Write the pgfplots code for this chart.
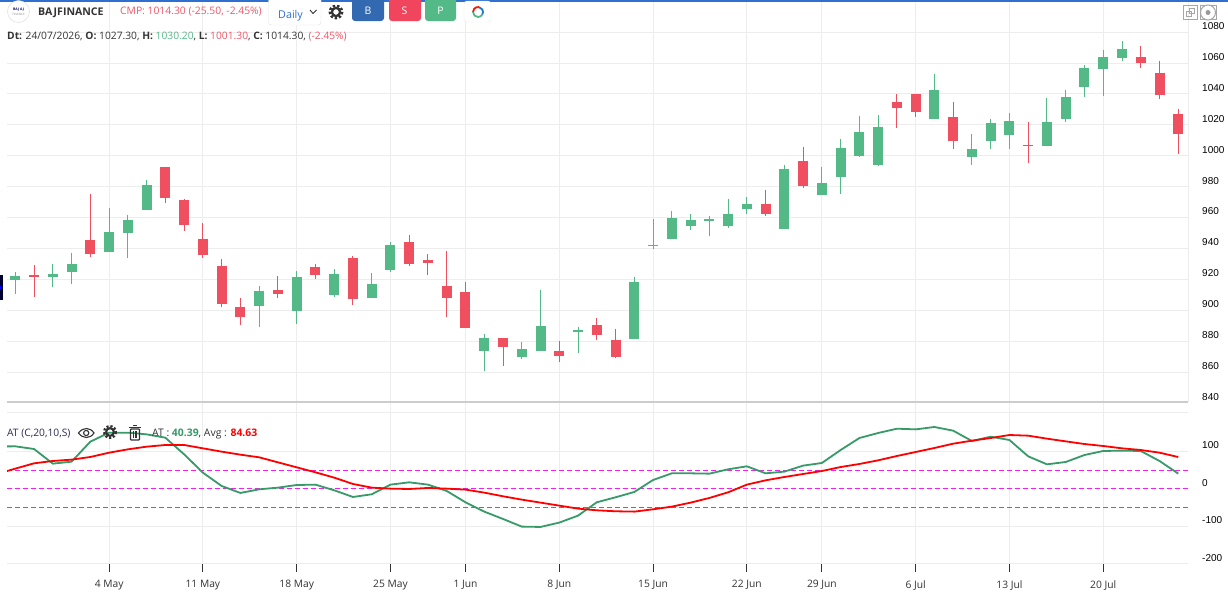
\documentclass[border=0pt]{standalone}
\usepackage{fontspec}
\setmainfont{Open Sans}
\newfontfamily\ticksf{Liberation Sans}
\usepackage{pgfplots}
\usepackage{pgfplotstable}
\pgfplotsset{compat=1.18}
\definecolor{upc}{HTML}{53B987}
\definecolor{dnc}{HTML}{EF4F5F}
\definecolor{gridc}{HTML}{EDEDED}
\definecolor{linegr}{HTML}{389A68}
\definecolor{txt}{HTML}{333333}
\definecolor{pinkt}{HTML}{EF5568}
\definecolor{bluet}{HTML}{2F6FD0}
\definecolor{btnb}{HTML}{3269B1}
\definecolor{btns}{HTML}{F0455C}
\definecolor{dashc}{HTML}{F020F0}
\pgfplotstableread{
i t b h l
0 922.3 919.7 924.9 910.7
2 923.6 921.7 930.1 915.2
3 930.1 924.9 937.2 917.1
5 950.8 937.9 966.3 937.9
6 958.6 950.2 961.8 934.0
7 981.2 964.6 984.5 964.6
13 912.6 902.9 915.8 889.3
15 921.7 899.7 925.6 891.3
17 923.6 910.0 926.8 908.7
19 917.1 908.1 924.3 908.1
20 942.4 926.2 944.3 924.9
25 882.2 873.8 884.8 860.9
27 875.1 869.9 879.6 868.6
28 890.0 873.8 913.3 873.8
30 887.4 886.1 889.3 872.5
33 918.5 881.6 921.7 881.6
34 942.4 941.7 959.2 939.8
35 959.9 945.8 964.4 945.8
36 958.6 954.7 962.5 952.1
37 959.2 957.9 961.2 948.2
38 962.5 954.3 972.2 953.4
39 968.9 965.7 973.5 962.5
41 991.6 952.3 994.2 952.3
43 982.5 974.8 992.9 974.8
44 1005.2 986.4 1011.0 975.0
45 1015.5 1000.0 1025.9 999.3
46 1018.8 994.2 1026.5 993.5
49 1042.7 1024.0 1053.1 1024.0
51 1004.5 999.3 1014.2 994.2
52 1021.4 1009.7 1023.9 1004.5
53 1022.7 1013.6 1027.8 1004.5
55 1022.0 1006.5 1037.5 1006.5
56 1038.2 1023.9 1042.7 1022.0
57 1057.0 1044.7 1058.9 1038.2
58 1064.1 1056.3 1068.6 1038.8
59 1069.3 1063.4 1074.4 1061.5
}\upT
\pgfplotstableread{
i t b h l
1 923.0 921.7 929.4 908.7
4 945.6 936.6 975.4 934.6
8 992.9 972.8 992.9 969.6
9 971.5 955.3 972.2 951.4
10 946.3 935.9 956.6 934.0
11 928.8 904.2 933.3 902.3
12 902.3 895.8 908.1 890.6
14 913.3 910.7 922.3 908.1
16 928.1 923.0 930.1 920.4
18 934.0 907.4 935.2 903.6
21 944.4 930.1 948.9 928.8
22 932.7 930.8 936.6 923.0
23 915.9 908.1 938.5 895.8
24 912.0 888.7 918.5 888.3
26 882.2 876.4 882.2 864.1
29 873.8 870.6 880.3 866.7
31 890.6 884.2 895.2 880.9
32 880.9 869.9 888.0 869.3
40 968.9 962.5 978.0 961.2
42 996.8 980.6 1005.8 979.3
47 1034.9 1031.1 1040.1 1018.1
48 1040.1 1028.5 1040.1 1025.2
50 1025.2 1009.7 1035.0 1004.5
54 1007.2 1006.5 1022.0 995.5
60 1064.1 1060.2 1071.2 1057.0
61 1053.7 1039.5 1061.5 1036.9
62 1027.3 1014.3 1030.2 1001.3
}\dnT
\pgfplotstableread{
i at avg
-1 113.0 39.0
0 113.2 53.7
1 106.1 67.9
2 67.0 74.1
3 72.3 77.7
4 125.7 84.8
5 149.7 96.3
6 149.7 105.2
7 145.2 112.3
8 136.3 116.8
9 91.9 116.8
10 43.0 107.9
11 7.4 99.0
12 -11.2 91.0
13 -1.5 83.9
14 3.0 70.5
15 10.0 57.2
16 11.0 43.9
17 -4.1 29.7
18 -21.9 12.8
19 -14.8 3.0
20 11.0 0.3
21 17.2 -0.6
22 11.0 2.1
23 -5.9 0.3
24 -36.1 -2.3
25 -61.0 -10.3
26 -80.6 -20.1
27 -101.0 -29.0
28 -101.9 -37.0
29 -90.3 -45.0
30 -71.7 -53.0
31 -36.1 -57.5
32 -22.8 -60.1
33 -8.6 -61.0
34 23.4 -54.8
35 41.2 -47.7
36 41.2 -37.0
37 40.3 -24.6
38 51.9 -9.5
39 59.9 11.0
40 41.2 22.5
41 45.7 31.4
42 61.7 39.4
43 68.8 47.4
44 103.4 58.0
45 135.4 66.1
46 148.8 75.9
47 160.3 87.4
48 158.5 98.1
49 164.8 108.8
50 155.0 120.3
51 127.4 128.3
52 139.0 135.4
53 130.1 143.4
54 86.5 141.7
55 65.2 133.7
56 71.4 126.5
57 90.1 119.4
58 100.8 114.1
59 101.7 107.9
60 100.8 103.4
61 74.1 96.3
62 40.39 84.63
}\atT
\pgfplotsset{common/.style={
  scale only axis, width=1181bp, xmin=-0.4425, xmax=62.52,
  xtick={5,10,15,20,24,29,34,39,43,48,53,58},
  axis line style={draw=none},
  grid=major, grid style={gridc, line width=1bp},
  yticklabel pos=right,
  ytick style={draw=none},
  tick label style={font=\fontsize{10.3}{12}\selectfont},
  y tick label style={font=\ticksf\fontsize{10.04}{12}\selectfont, text=black, anchor=west, inner sep=0pt, yshift=6bp},
  /pgf/number format/assume math mode=true,
  /pgf/number format/set thousands separator={},
}}
\begin{document}
\begin{tikzpicture}
\path[use as bounding box, fill=white] (0,0) rectangle (1228bp,-592bp);
\begin{axis}[common, anchor=south west, at={(7bp,-402.9bp)}, height=401.7bp,
  ymin=840, ymax=1100, ytick={840,860,...,1080},
  xticklabels={}, major tick length=0pt, xtick style={draw=none},
  y tick label style={xshift=14bp}]
\addplot[draw=none, mark=none, forget plot, error bars/.cd, y dir=minus, y explicit, error mark=none, error bar style={upc, line width=1bp}]
  table[x=i, y=h, y error minus expr=\thisrow{h}-\thisrow{l}] {\upT};
\addplot[draw=none, mark=none, forget plot, error bars/.cd, y dir=minus, y explicit, error mark=none, error bar style={dnc, line width=1bp}]
  table[x=i, y=h, y error minus expr=\thisrow{h}-\thisrow{l}] {\dnT};
\addplot[draw=none, mark=none, forget plot, error bars/.cd, y dir=minus, y explicit, error mark=none, error bar style={upc, line width=10bp}]
  table[x=i, y=t, y error minus expr=\thisrow{t}-\thisrow{b}] {\upT};
\addplot[draw=none, mark=none, forget plot, error bars/.cd, y dir=minus, y explicit, error mark=none, error bar style={dnc, line width=10bp}]
  table[x=i, y=t, y error minus expr=\thisrow{t}-\thisrow{b}] {\dnT};
\end{axis}
\begin{axis}[common, anchor=south west, at={(7bp,-563.7bp)}, height=161.7bp,
  ymin=-200, ymax=231.5, ytick={-200,-100,0,100,203.5},
  yticklabels={-200,-100,0,100,{}},
  xticklabels={4 May,11 May,18 May,25 May,1 Jun,8 Jun,15 Jun,22 Jun,29 Jun,6 Jul,13 Jul,20 Jul},
  tick align=outside, xtick pos=bottom, major tick length=8bp,
  xtick style={draw=txt, line width=0.8bp},
  x tick label style={text=txt, inner sep=0pt, yshift=-8.5bp},
  y tick label style={xshift=6bp}]
\addplot[dashc, line width=1bp, dash pattern=on 5bp off 3bp, forget plot] coordinates {(-0.4425,50) (62.52,50)};
\addplot[dashc, line width=1bp, dash pattern=on 5bp off 3bp, forget plot] coordinates {(-0.4425,0) (62.52,0)};
\addplot[dashc, line width=1bp, dash pattern=on 5bp off 3bp, forget plot] coordinates {(-0.4425,-50) (62.52,-50)};
\addplot[linegr, line width=1.8bp, line join=round] table[x=i, y=at] {\atT};
\addplot[red, line width=1.8bp, line join=round] table[x=i, y=avg] {\atT};
\end{axis}
\begin{scope}[x=1bp, y=-1bp]
\fill[white] (1188.6,0) rectangle (1228,10);
\draw[gridc, line width=1bp] (1188,0) -- (1188,402);
\draw[black!20, line width=2bp] (7,401.7) -- (1188,401.7);
\fill[bluet] (0,0) rectangle (1228,1.6);
\fill[black!80!blue] (0,275) rectangle (3,300);
\fill[blue] (0,285.5) rectangle (1.5,288.5);
\draw[black!15, fill=white] (18.5,11.5) circle (11);
\node[font=\bfseries\fontsize{3.4}{4}\selectfont, text=blue!40!black] at (18.5,9.6) {BAJ AJ};
\node[font=\fontsize{3}{4}\selectfont, text=black!45] at (18.5,14) {FINANCE};
\node[anchor=base west, inner sep=0, font=\bfseries\fontsize{10.6}{12}\selectfont, text=txt] at (38,15) {BAJFINANCE};
\node[anchor=base west, inner sep=0, font=\fontsize{10.36}{12}\selectfont, text=pinkt] at (120,14) {CMP: 1014.30 (-25.50, -2.45\%)};
\draw[black!12, fill=white, rounded corners=3bp] (268.5,-3) rectangle (321,25);
\node[anchor=base west, inner sep=0, font=\fontsize{10.8}{12}\selectfont, text=bluet] at (278,18) {Daily};
\draw[txt, line width=0.9bp] (310,10) -- (313,13.5) -- (316.5,10);
\draw[txt, line width=2.4bp, dash pattern=on 2.4bp off 1.9bp] (336,12) circle (6.2);
\draw[txt, line width=2.3bp] (336,12) circle (4.1);
\fill[btnb, rounded corners=3bp] (352,-3) rectangle (384,21);
\fill[btns, rounded corners=3bp] (389,-3) rectangle (421,21);
\fill[upc, rounded corners=3bp] (425,-3) rectangle (456,21);
\node[text=white, font=\fontsize{10.5}{12}\selectfont] at (368,11) {B};
\node[text=white, font=\fontsize{10.5}{12}\selectfont] at (404.5,11) {S};
\node[text=white, font=\fontsize{10.5}{12}\selectfont] at (440.5,11) {P};
\draw[black!8, fill=white, rounded corners=3bp] (464,1) rectangle (491,22);
\draw[upc, line width=1.8bp] (478,12) ++(180:5) arc[start angle=180, delta angle=-150, radius=5];
\draw[cyan!60!blue, line width=1.8bp] (478,12) ++(30:5) arc[start angle=30, delta angle=-110, radius=5];
\draw[red!80!orange, line width=1.8bp] (478,12) ++(-80:5) arc[start angle=-80, delta angle=-100, radius=5];
\node[anchor=base west, inner sep=0, font=\fontsize{10.3}{12}\selectfont, text=txt] at (7,39) {\textbf{Dt:} 24/07/2026, \textbf{O:} 1027.30, \textbf{H:} \textcolor{upc}{1030.20}, \textbf{L:} \textcolor{pinkt}{1001.30}, \textbf{C:} 1014.30, \textcolor{pinkt}{(-2.45\%)}};
\draw[black!35, line width=1bp] (1183,5.5) rectangle (1197,19.5);
\draw[black!35, line width=1bp] (1189,8.5) rectangle (1194,13.5);
\draw[black!35, line width=1bp] (1186,11.5) rectangle (1191,16.5);
\draw[black!35, line width=1bp] (1200,5.5) rectangle (1216,19.5);
\draw[black!35, fill=white, line width=1bp] (1208,12.5) circle (7.5);
\fill[black!40] (1208,12.5) circle (2.5);
\node[anchor=base west, inner sep=0, font=\fontsize{10.3}{12}\selectfont, text=txt!85!blue] at (7,436) {AT (C,20,10,S)};
\draw[txt, line width=1.1bp] (78.5,433) .. controls (83,427) and (90,427) .. (94,433) .. controls (90,439) and (83,439) .. (78.5,433) -- cycle;
\draw[txt, line width=1.1bp] (86.2,433) circle (2.6);
\draw[txt, line width=2.2bp, dash pattern=on 2.2bp off 1.8bp] (110,432) circle (5.9);
\draw[txt, line width=2.1bp] (110,432) circle (3.9);
\draw[txt, line width=1.2bp, rounded corners=0.8bp] (130.5,429) rectangle (139.5,440);
\draw[txt, line width=1.3bp] (129,427.5) -- (141,427.5);
\draw[txt, line width=1.3bp] (133,425.5) -- (137,425.5);
\draw[txt, line width=0.9bp] (133.5,431) -- (133.5,438) (135,431) -- (135,438) (136.5,431) -- (136.5,438);
\node[anchor=base west, inner sep=0, font=\fontsize{10.45}{12}\selectfont, text=txt] at (152,436) {AT : \textbf{\textcolor{linegr}{40.39}}, Avg : \textbf{\textcolor{red}{84.63}}};
\end{scope}
\end{tikzpicture}
\end{document}
